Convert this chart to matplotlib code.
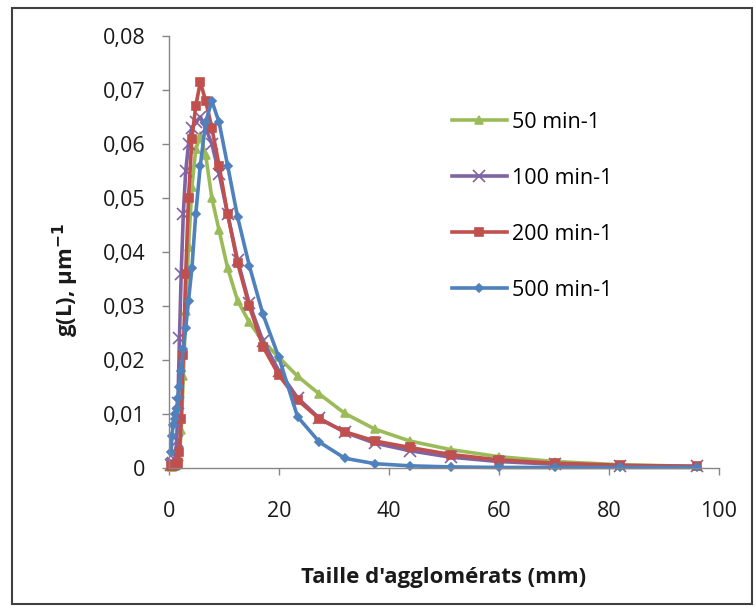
import matplotlib
matplotlib.use("Agg")
import matplotlib.pyplot as plt
from matplotlib.patches import Rectangle
from matplotlib.ticker import FuncFormatter, MultipleLocator

plt.rcParams['font.family'] = ['Open Sans', 'DejaVu Sans']
plt.rcParams['mathtext.fontset'] = 'dejavusans'

# taille d'agglomérats (classes communes aux 4 séries)
taille = [0.40, 0.54, 0.74, 1.00, 1.18, 1.39, 1.62, 1.90, 2.22, 2.60, 3.04,
          3.55, 4.16, 4.86, 5.69, 6.66, 7.79, 9.11, 10.66, 12.47, 14.59,
          17.07, 19.97, 23.37, 27.34, 31.99, 37.43, 43.79, 51.23, 59.94,
          70.13, 82.05, 96.00]

g_50 = [0.0002, 0.0002, 0.0003, 0.0003, 0.0004, 0.0005, 0.0008, 0.0020,
        0.0070, 0.0170, 0.0290, 0.0410, 0.0520, 0.0590, 0.0615, 0.0580,
        0.0500, 0.0440, 0.0370, 0.0310, 0.0270, 0.0235, 0.0205, 0.0170,
        0.0137, 0.0101, 0.0072, 0.0050, 0.0034, 0.0021, 0.0012, 0.0006,
        0.0003]
g_100 = [0.0005, 0.0008, 0.0010, 0.0014, 0.0020, 0.0050, 0.0120, 0.0240,
         0.0360, 0.0470, 0.0550, 0.0600, 0.0630, 0.0640, 0.0650, 0.0630,
         0.0600, 0.0545, 0.0470, 0.0385, 0.0305, 0.0235, 0.0180, 0.0130,
         0.0092, 0.0066, 0.0046, 0.0032, 0.0020, 0.0012, 0.0007, 0.0004,
         0.0003]
g_200 = [0.0003, 0.0003, 0.0004, 0.0005, 0.0006, 0.0008, 0.0010, 0.0030,
         0.0090, 0.0210, 0.0360, 0.0500, 0.0610, 0.0670, 0.0715, 0.0680,
         0.0630, 0.0560, 0.0470, 0.0380, 0.0300, 0.0225, 0.0172, 0.0126,
         0.0091, 0.0067, 0.0050, 0.0038, 0.0025, 0.0015, 0.0009, 0.0005,
         0.0003]
g_500 = [0.0030, 0.0060, 0.0080, 0.0090, 0.0100, 0.0110, 0.0130, 0.0150,
         0.0180, 0.0220, 0.0260, 0.0310, 0.0370, 0.0470, 0.0560, 0.0640,
         0.0680, 0.0640, 0.0560, 0.0465, 0.0375, 0.0285, 0.0205, 0.0095,
         0.0048, 0.0018, 0.0008, 0.0004, 0.0002, 0.0001, 0.0001, 0.0001,
         0.0001]

labels = ['50 min-1', '100 min-1', '200 min-1', '500 min-1']
series = [g_50, g_100, g_200, g_500]
colors = ['#9BBB59', '#8064A2', '#C0504D', '#4F81BD']
markers = ['^', 'x', 's', 'D']
msizes = [5.5, 9, 6, 4.5]

W, H = 756, 610
fig = plt.figure(figsize=(W / 100, H / 100), dpi=100)
ax = fig.add_axes([169 / W, 1 - 468 / H, (719 - 169) / W, (468 - 36) / H])

for y, lab, c, m, ms in zip(series, labels, colors, markers, msizes):
    ax.plot(taille, y, color=c, lw=2.6, marker=m, ms=ms, mew=1.2,
            label=lab, clip_on=False)

ax.set_xlim(0, 100)
ax.set_ylim(0, 0.08)
ax.xaxis.set_major_locator(MultipleLocator(20))
ax.yaxis.set_major_locator(MultipleLocator(0.01))
ax.yaxis.set_major_formatter(FuncFormatter(
    lambda v, p: '0' if abs(v) < 1e-9 else f'{v:.2f}'.replace('.', ',')))

for s in ['top', 'right']:
    ax.spines[s].set_visible(False)
for s in ['left', 'bottom']:
    ax.spines[s].set_color('#868686')
    ax.spines[s].set_linewidth(1.0)
ax.tick_params(direction='out', length=5, width=1.0, color='#868686',
               labelsize=15.5, labelcolor='#1a1a1a')
ax.tick_params(axis='x', pad=19)
ax.tick_params(axis='y', pad=12)

fig.text(444 / W, 1 - 578 / H, "Taille d'agglomérats (mm)", fontsize=16,
         fontweight='bold', ha='center', va='center', color='#1a1a1a')
fig.text(66 / W, 1 - 280 / H, 'g(L), µm$^{\\mathbf{-1}}$', rotation=90,
         fontsize=16, fontweight='bold', ha='center', va='center',
         color='#1a1a1a')

ax.legend(loc='upper left', bbox_to_anchor=(452 / W, 1 - 112 / H),
          bbox_transform=fig.transFigure, frameon=False, borderpad=0,
          borderaxespad=0, fontsize=15.5, labelspacing=1.62,
          handlelength=2.55, handletextpad=0.25)

fig.patches.append(Rectangle((12 / W, 1 - 604 / H), 740 / W, 596 / H,
                             transform=fig.transFigure, fill=False,
                             edgecolor='#404040', lw=1.5))

fig.savefig('out.png', dpi=100)
